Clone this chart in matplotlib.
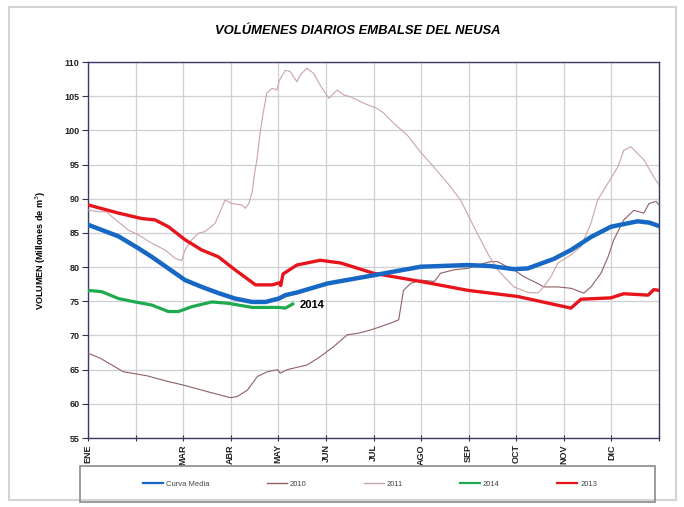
import numpy as np
import matplotlib.pyplot as plt
from matplotlib import font_manager
from matplotlib.patches import Rectangle

# Month positions (0 = 1 ENE, 12 = 31 DIC)
month_ticks = np.arange(13)
month_labels = ['ENE', '', 'MAR', 'ABR', 'MAY', 'JUN', 'JUL', 'AGO', 'SEP', 'OCT', 'NOV', 'DIC', '']

# Curva Media
media_x = [0, 0.64, 1.06, 1.34, 1.69, 2.04, 2.39, 2.74, 3.09, 3.45, 3.73, 4.01, 4.15, 4.40,
           5.03, 6.0, 6.99, 7.98, 8.46, 8.95, 9.24, 9.79, 10.15, 10.57, 10.99, 11.55, 11.8, 12.0]
media_y = [86.2, 84.5, 82.75, 81.5, 79.8, 78.1, 77.1, 76.2, 75.4, 74.9, 74.9, 75.4, 75.9, 76.3,
           77.6, 78.8, 80.05, 80.3, 80.15, 79.7, 79.8, 81.2, 82.5, 84.4, 85.9, 86.7, 86.5, 86.0]

# 2010
y2010_x = [0, 0.25, 0.74, 1.24, 1.66, 2.0, 2.5, 2.99, 3.13, 3.35, 3.56, 3.77, 3.98, 4.04, 4.19,
           4.61, 4.88, 5.16, 5.45, 5.66, 5.94, 6.15, 6.36, 6.53, 6.63, 6.78, 6.99, 7.28, 7.41,
           7.69, 7.97, 8.32, 8.46, 8.61, 8.74, 8.95, 9.16, 9.45, 9.58, 9.87, 10.15, 10.42,
           10.57, 10.78, 10.93, 11.05, 11.26, 11.47, 11.68, 11.79, 11.94, 12.0]
y2010_y = [67.4, 66.7, 64.7, 64.1, 63.3, 62.75, 61.8, 60.9, 61.05, 62.0, 64.0, 64.7, 65.0, 64.5, 65.0,
           65.7, 66.9, 68.35, 70.1, 70.3, 70.8, 71.3, 71.8, 72.3, 76.6, 77.6, 78.1, 77.9, 79.1,
           79.6, 79.8, 80.55, 80.8, 80.8, 80.3, 79.6, 78.6, 77.6, 77.1, 77.1, 76.9, 76.2,
           77.1, 79.1, 81.5, 84.0, 86.9, 88.3, 87.9, 89.3, 89.6, 89.1]

# 2011
y2011_x = [0, 0.22, 0.39, 0.5, 0.85, 1.06, 1.34, 1.62, 1.83, 1.97, 2.04, 2.18, 2.32, 2.46, 2.67,
           2.88, 3.02, 3.23, 3.31, 3.38, 3.45, 3.5, 3.55, 3.62, 3.68, 3.76, 3.87, 3.97, 4.02,
           4.15, 4.25, 4.39, 4.46, 4.6, 4.74, 4.88, 5.06, 5.24, 5.37, 5.52, 5.8, 6.08, 6.22,
           6.43, 6.71, 6.99, 7.26, 7.62, 7.83, 8.11, 8.4, 8.61, 8.95, 9.24, 9.45, 9.55, 9.73,
           9.87, 10.15, 10.36, 10.57, 10.71, 10.84, 11.14, 11.26, 11.41, 11.68, 11.89, 12.0]
y2011_y = [88.35, 88.1, 88.1, 87.4, 85.4, 84.7, 83.5, 82.5, 81.3, 80.95, 82.5, 84.0, 84.95, 85.2, 86.4,
           89.8, 89.3, 89.1, 88.6, 89.3, 91.0, 93.7, 95.7, 99.8, 102.5, 105.5, 106.15, 105.9, 107.3,
           108.8, 108.6, 107.1, 108.1, 109.1, 108.35, 106.6, 104.7, 105.9, 105.2, 104.9, 103.95, 103.2, 102.5,
           101.0, 99.3, 96.8, 94.7, 91.75, 89.8, 85.9, 82.0, 79.6, 77.1, 76.3, 76.2, 76.9, 78.6,
           80.55, 81.8, 83.0, 86.4, 89.8, 91.3, 94.7, 97.1, 97.6, 95.7, 93.2, 92.0]

# 2014
y2014_x = [0, 0.29, 0.64, 0.99, 1.34, 1.69, 1.9, 2.18, 2.6, 2.95, 3.45, 4.01, 4.15, 4.3]
y2014_y = [76.6, 76.4, 75.4, 74.9, 74.45, 73.5, 73.5, 74.2, 74.9, 74.7, 74.1, 74.1, 74.0, 74.6]

# 2013
y2013_x = [0, 0.64, 1.13, 1.41, 1.69, 2.04, 2.39, 2.74, 3.09, 3.52, 3.87, 4.02, 4.05, 4.1,
           4.39, 4.88, 5.31, 6.0, 6.99, 7.98, 9.03, 10.15, 10.36, 10.99, 11.26, 11.77, 11.89, 12.0]
y2013_y = [89.1, 87.9, 87.1, 86.9, 85.9, 84.0, 82.5, 81.5, 79.6, 77.4, 77.4, 77.7, 77.3, 79.0,
           80.3, 81.0, 80.6, 79.1, 77.9, 76.6, 75.7, 74.0, 75.3, 75.5, 76.1, 75.9, 76.7, 76.6]

names = {f.name for f in font_manager.fontManager.ttflist}
narrow = 'Liberation Sans Narrow' if 'Liberation Sans Narrow' in names else 'Liberation Sans'
plt.rcParams['font.family'] = ['Liberation Sans', 'DejaVu Sans']

fig = plt.figure(figsize=(6.84, 5.07), dpi=100)
fig.patches.append(Rectangle((9 / 684, 1 - 500 / 507), 667 / 684, 493 / 507, transform=fig.transFigure,
                             fill=False, edgecolor='#d4d4d4', linewidth=1.5))

ax = fig.add_axes([88 / 684, 69 / 507, 571 / 684, 376 / 507])

l_media, = ax.plot(media_x, media_y, color='#1768c4', linewidth=3.2, label='Curva Media', zorder=5)
l2010, = ax.plot(y2010_x, y2010_y, color='#8e6062', linewidth=0.8, label='2010', zorder=3)
l2011, = ax.plot(y2011_x, y2011_y, color='#c9a3ab', linewidth=0.8, label='2011', zorder=3)
l2014, = ax.plot(y2014_x, y2014_y, color='#1faa4f', linewidth=2.3, label='2014', zorder=4)
l2013, = ax.plot(y2013_x, y2013_y, color='#e8141c', linewidth=2.4, label='2013', zorder=4)

ax.text(y2014_x[-1] + 0.15, y2014_y[-1] - 0.2, '2014', fontsize=8, fontweight='bold', va='center')

ax.set_xlim(0, 12)
ax.set_ylim(55, 110)
ax.set_xticks(month_ticks)
ax.set_xticklabels(month_labels, rotation=90, fontsize=6.5, fontweight='bold', va='top')
ax.set_yticks(np.arange(55, 111, 5))
ax.tick_params(axis='y', labelsize=6.5, length=4, width=0.8, pad=2, colors='#333355', labelcolor='#222222')
ax.tick_params(axis='x', direction='inout', length=5, width=0.8, pad=2, colors='#333355', labelcolor='#222222')
for lab in ax.get_yticklabels():
    lab.set_fontweight('bold')
ax.grid(True, color='#cfcfd6', linewidth=0.9)
for s in ax.spines.values():
    s.set_color('#3a3a66')
    s.set_linewidth(1.0)

ax.set_ylabel('VOLUMEN (Millones de m$^3$)', fontsize=6.5, fontweight='bold', labelpad=12)

fig.text(358 / 684, 1 - 31 / 507, 'VOLÚMENES DIARIOS EMBALSE DEL NEUSA', family=narrow,
         fontsize=9.4, fontweight='bold', fontstyle='italic', ha='center', va='center')

# legend box
fig.patches.append(Rectangle((80 / 684, 1 - 502 / 507), 575 / 684, 36 / 507, transform=fig.transFigure,
                             fill=False, edgecolor='#8a8a8a', linewidth=1.2))
leg = fig.legend(handles=[l_media, l2010, l2011, l2014, l2013], loc='center', ncol=5,
                 bbox_to_anchor=(370 / 684, 1 - 484 / 507), frameon=False, fontsize=5.5,
                 handlelength=2.6, handletextpad=0.4, columnspacing=7.5, labelcolor='#444444')
for h in leg.legend_handles:
    h.set_linewidth(1.6 if h.get_label() not in ('2010', '2011') else 1.0)

plt.savefig('out.png', dpi=100)
